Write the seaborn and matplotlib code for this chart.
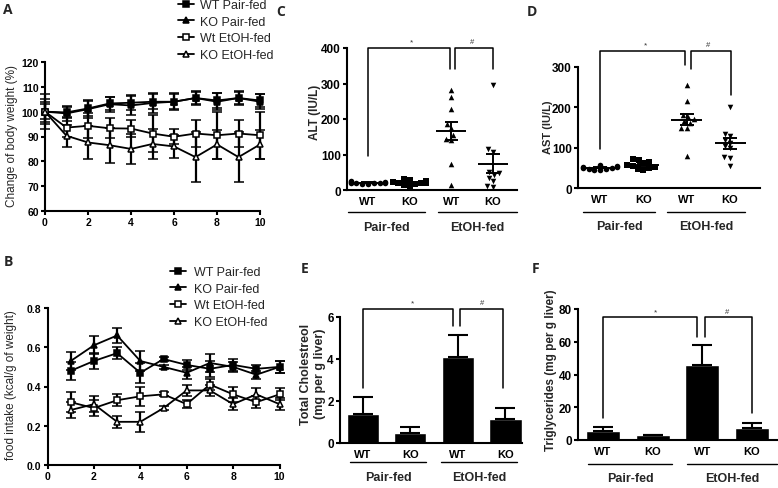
import numpy as np
import pandas as pd
import matplotlib
matplotlib.use("Agg")
import matplotlib.pyplot as plt
import matplotlib.transforms as mtransforms
from matplotlib.lines import Line2D
import seaborn as sns

# ---------------- data ----------------
days_bw = [0, 1, 2, 3, 4, 5, 6, 7, 8, 9, 10]
wt_pair_bw = [100, 99.7, 101.3, 103.3, 103.6, 104, 104, 105.5, 104.5, 105.5, 104.5]
ko_pair_bw = [100, 99.3, 101, 103, 102.5, 103.5, 104, 105.5, 104, 105.5, 104]
wt_etoh_bw = [100, 93.6, 94.3, 93.3, 93.2, 91.2, 89.9, 91.2, 90.5, 91.2, 90.5]
ko_etoh_bw = [100, 90.3, 87.6, 86.5, 85, 87, 86, 81.7, 86.8, 81.7, 86.8]
wt_pair_bw_err = [3, 2, 3, 2.5, 3, 3, 3, 2.5, 3, 2.5, 2.5]
ko_pair_bw_err = [7, 3, 3.5, 3, 4, 4, 3.5, 3, 3.5, 3, 3]
wt_etoh_bw_err = [4, 4, 5, 4, 3.5, 7.5, 3, 5.5, 9.5, 5.5, 9.5]
ko_etoh_bw_err = [5, 4.5, 6.5, 7, 6, 6, 4.5, 10, 6, 10, 6]

days_fi = [1, 2, 3, 4, 5, 6, 7, 8, 9, 10]
wt_pair_fi = [0.48, 0.53, 0.57, 0.47, 0.54, 0.51, 0.49, 0.51, 0.49, 0.50]
ko_pair_fi = [0.53, 0.61, 0.66, 0.53, 0.50, 0.47, 0.52, 0.50, 0.46, 0.50]
wt_etoh_fi = [0.32, 0.29, 0.33, 0.35, 0.36, 0.31, 0.41, 0.36, 0.32, 0.36]
ko_etoh_fi = [0.28, 0.31, 0.22, 0.22, 0.29, 0.38, 0.38, 0.31, 0.36, 0.31]
wt_pair_fi_err = [0.045, 0.04, 0.03, 0.05, 0.01, 0.025, 0.04, 0.03, 0.02, 0.03]
ko_pair_fi_err = [0.045, 0.045, 0.04, 0.05, 0.01, 0.03, 0.045, 0.025, 0.02, 0.03]
wt_etoh_fi_err = [0.05, 0.04, 0.03, 0.05, 0.01, 0.02, 0.03, 0.04, 0.03, 0.03]
ko_etoh_fi_err = [0.04, 0.04, 0.03, 0.05, 0.01, 0.03, 0.03, 0.03, 0.03, 0.03]

series_names = ["WT Pair-fed", "KO Pair-fed", "Wt EtOH-fed", "KO EtOH-fed"]

genotypes = ["WT", "KO", "WT", "KO"]
diet_groups = ["Pair-fed", "EtOH-fed"]
cats = ["WT Pair-fed", "KO Pair-fed", "WT EtOH-fed", "KO EtOH-fed"]

alt_wt_pair = [24, 23, 22, 21, 20, 20, 19, 18, 17, 21]
alt_ko_pair = [30, 28, 26, 23, 21, 19, 17, 14, 12, 20]
alt_wt_etoh = [282, 262, 228, 185, 175, 155, 145, 140, 72, 15]
alt_ko_etoh = [295, 115, 108, 52, 48, 42, 35, 25, 10, 8]

ast_wt_pair = [58, 55, 53, 51, 50, 49, 48, 47, 45, 44]
ast_ko_pair = [72, 70, 65, 62, 58, 55, 52, 50, 48, 45]
ast_wt_etoh = [255, 215, 180, 175, 170, 165, 160, 150, 148, 80]
ast_ko_etoh = [202, 135, 128, 120, 112, 105, 98, 76, 74, 55]

chol_mean = [1.38, 0.50, 4.10, 1.15]
chol_sem = [0.82, 0.26, 1.04, 0.52]
tg_mean = [5.3, 2.8, 45.7, 7.1]
tg_sem = [2.4, 0.4, 12.3, 3.1]

# ---------------- style ----------------
sns.set_style("ticks")
plt.rcParams["font.family"] = ["Liberation Sans", "DejaVu Sans"]
plt.rcParams["axes.linewidth"] = 1.5
plt.rcParams["xtick.major.width"] = 1.5
plt.rcParams["ytick.major.width"] = 1.5
plt.rcParams["xtick.major.size"] = 3
plt.rcParams["ytick.major.size"] = 3
plt.rcParams["xtick.color"] = "black"
plt.rcParams["ytick.color"] = "black"
plt.rcParams["axes.edgecolor"] = "black"

W, H = 778, 489
fig = plt.figure(figsize=(W / 100, H / 100), dpi=100)
fig.patch.set_facecolor("white")


def add_ax(l, t, r, b):
    ax = fig.add_axes([l / W, 1 - b / H, (r - l) / W, (b - t) / H])
    ax.set_facecolor("none")
    sns.despine(ax=ax)
    return ax


def ftxt(x, y, s, **kw):
    fig.text(x / W, 1 - y / H, s, **kw)


# ---------------- line panels ----------------
mk = [("s", "black"), ("^", "black"), ("s", "white"), ("^", "white")]


def line_panel(ax, x, ys, errs):
    for (m, fc), y, e in zip(mk, ys, errs):
        ax.errorbar(x, y, yerr=e, fmt="-", color="black", marker=m, mfc=fc,
                    mec="black", ms=4.5, mew=1.1, lw=1.3, elinewidth=1.6,
                    capsize=3.5, capthick=1.6, clip_on=False, zorder=3)


axA = add_ax(45, 63, 260, 212)
line_panel(axA, days_bw, [wt_pair_bw, ko_pair_bw, wt_etoh_bw, ko_etoh_bw],
           [wt_pair_bw_err, ko_pair_bw_err, wt_etoh_bw_err, ko_etoh_bw_err])
axA.set_xlim(0, 10)
axA.set_ylim(60, 120)
axA.set_xticks(range(0, 11, 2))
axA.set_yticks(range(60, 121, 10))

axB = add_ax(47.5, 309, 279.5, 466)
line_panel(axB, days_fi, [wt_pair_fi, ko_pair_fi, wt_etoh_fi, ko_etoh_fi],
           [wt_pair_fi_err, ko_pair_fi_err, wt_etoh_fi_err, ko_etoh_fi_err])
axB.set_xlim(0, 10)
axB.set_ylim(0, 0.8)
axB.set_xticks(range(0, 11, 2))
axB.set_yticks([0, 0.2, 0.4, 0.6, 0.8])
axB.set_yticklabels(["0.0", "0.2", "0.4", "0.6", "0.8"])

for ax in (axA, axB):
    ax.tick_params(labelsize=7.5, pad=1.5)
    for t in ax.get_xticklabels() + ax.get_yticklabels():
        t.set_fontweight("bold")

ftxt(12, 136, "Change of body weight (%)", rotation=90, ha="center", va="center", fontsize=8.5)
ftxt(11, 385, "food intake (kcal/g of weight)", rotation=90, ha="center", va="center", fontsize=8.5)

handles = [Line2D([0], [0], color="black", lw=1.3, marker=m, mfc=fc, mec="black", ms=4.5, mew=1.1)
           for m, fc in mk]
fig.legend(handles, series_names, loc="upper left", bbox_to_anchor=(178 / W, 1 - 0 / H),
           frameon=False, fontsize=9, handlelength=1.3, handletextpad=0.5,
           labelspacing=0.38, borderpad=0, borderaxespad=0)
fig.legend(handles, series_names, loc="upper left", bbox_to_anchor=(170 / W, 1 - 267 / H),
           frameon=False, fontsize=9, handlelength=1.3, handletextpad=0.6,
           labelspacing=0.38, borderpad=0, borderaxespad=0)


# ---------------- categorical helpers ----------------
def cat_axis(ax, glines, ytick_y, gline_y, glabel_y):
    ax.set_xticks(range(4))
    ax.set_xticklabels(genotypes, fontsize=8, fontweight="bold")
    ax.tick_params(axis="x", length=0, pad=4)
    ax.tick_params(axis="y", labelsize=8.5, pad=1.5)
    for t in ax.get_yticklabels():
        t.set_fontweight("bold")
    ax.set_xlabel("")
    ax.set_ylabel("")
    tr = mtransforms.blended_transform_factory(ax.transData, fig.transFigure)
    for (x0, x1), lab in zip(glines, diet_groups):
        ax.plot([x0, x1], [1 - gline_y / H] * 2, transform=tr, color="black",
                lw=1.0, clip_on=False)
        ax.text((x0 + x1) / 2, 1 - glabel_y / H, lab, transform=tr, ha="center",
                va="center", fontsize=9, fontweight="bold")


def brackets(ax, top, left_bot, mid_bots, right_bot, xs, star_x, hash_x, txt_dy):
    kw = dict(color="black", lw=1.1, clip_on=False)
    x0, xm1, xm2, x3 = xs
    ax.plot([x0, x0, xm1, xm1], [left_bot, top, top, mid_bots[0]], **kw)
    ax.plot([xm2, xm2, x3, x3], [mid_bots[1], top, top, right_bot], **kw)
    ax.text(star_x, top + txt_dy, "*", ha="center", va="bottom", fontsize=6, color="#333333")
    ax.text(hash_x, top + txt_dy, "#", ha="center", va="bottom", fontsize=5.5, color="#333333")


def scatter_panel(ax, groups):
    markers = ["o", "s", "^", "v"]
    for i, vals in enumerate(groups):
        sns.swarmplot(x=[cats[i]] * len(vals), y=vals, order=cats, marker=markers[i],
                      color="black", size=4.0, ax=ax, clip_on=False, warn_thresh=1)
        m = np.mean(vals)
        s = np.std(vals, ddof=1) / np.sqrt(len(vals))
        ax.hlines(m, i - 0.36, i + 0.36, color="black", lw=1.4, zorder=4)
        ax.hlines([m - s, m + s], i - 0.16, i + 0.16, color="black", lw=1.4, zorder=4)
        ax.vlines(i, m - s, m + s, color="black", lw=1.4, zorder=4)


def bar_panel(ax, means, sems):
    df = pd.DataFrame({"cat": cats, "val": means})
    sns.barplot(data=df, x="cat", y="val", order=cats, color="black", saturation=1,
                width=0.68, errorbar=None, ax=ax, zorder=2)
    ax.errorbar(range(4), means, yerr=[np.zeros(4), sems], fmt="none", ecolor="black",
                elinewidth=1.5, capsize=7, capthick=1.5, zorder=3, clip_on=False)


# ---------------- C ----------------
axC = add_ax(347, 49, 517, 191)
scatter_panel(axC, [alt_wt_pair, alt_ko_pair, alt_wt_etoh, alt_ko_etoh])
axC.set_xlim(-0.504, 3.576)
axC.set_ylim(0, 400)
axC.set_yticks(range(0, 401, 100))
cat_axis(axC, [(-0.48, 1.37), (1.68, 3.58)], 203, 213, 228)
brackets(axC, 400, 95, (340, 340), 340, (0, 1.97, 2.09, 3.0), 1.05, 2.5, 8)
ftxt(315, 112, "ALT (IU/L)", rotation=90, ha="center", va="center", fontsize=8.5, fontweight="bold")

# ---------------- D ----------------
axD = add_ax(578, 68, 760, 189)
scatter_panel(axD, [ast_wt_pair, ast_ko_pair, ast_wt_etoh, ast_ko_etoh])
axD.set_xlim(-0.51, 3.69)
axD.set_ylim(0, 300)
axD.set_yticks(range(0, 301, 100))
cat_axis(axD, [(-0.39, 1.27), (1.55, 3.35)], 200, 213, 227)
brackets(axD, 339, 97, (305, 295), 230, (0, 1.96, 2.1, 3.02), 1.05, 2.5, 8)
ftxt(548, 127, "AST (IU/L)", rotation=90, ha="center", va="center", fontsize=8, fontweight="bold")

# ---------------- E ----------------
axE = add_ax(340, 318, 522, 444)
bar_panel(axE, chol_mean, chol_sem)
axE.set_xlim(-0.48, 3.35)
axE.set_ylim(0, 6)
axE.set_yticks([0, 2, 4, 6])
cat_axis(axE, [(-0.27, 1.33), (1.64, 3.25)], 455, 463, 478)
brackets(axE, 6.4, 2.6, (5.57, 5.57), 2.6, (0, 1.9, 2.04, 2.96), 1.05, 2.5, 0.12)
ftxt(313, 374, "Total Cholestreol\n(mg per g liver)", rotation=90, ha="center", va="center",
     fontsize=9, fontweight="bold", linespacing=1.2)

# ---------------- F ----------------
axF = add_ax(578, 310, 777, 441)
bar_panel(axF, tg_mean, tg_sem)
axF.set_xlim(-0.5, 3.5)
axF.set_ylim(0, 80)
axF.set_yticks(range(0, 81, 20))
cat_axis(axF, [(-0.3, 1.39), (1.7, 3.5)], 453, 465, 479)
brackets(axF, 74.9, 13.7, (63, 63), 16.7, (0, 1.9, 2.05, 3.0), 1.05, 2.5, 1.5)
ftxt(551, 370, "Triglycerides (mg per g liver)", rotation=90, ha="center", va="center",
     fontsize=8.5, fontweight="bold")

# ---------------- panel letters ----------------
for lab, x, y in [("A", 8, 10), ("B", 8, 262), ("C", 281, 12), ("D", 532, 12),
                  ("E", 305, 269), ("F", 536, 269)]:
    ftxt(x, y, lab, ha="center", va="center", fontsize=10, fontweight="bold",
         family=["Open Sans", "DejaVu Sans"])

fig.savefig("out.png", dpi=100)
